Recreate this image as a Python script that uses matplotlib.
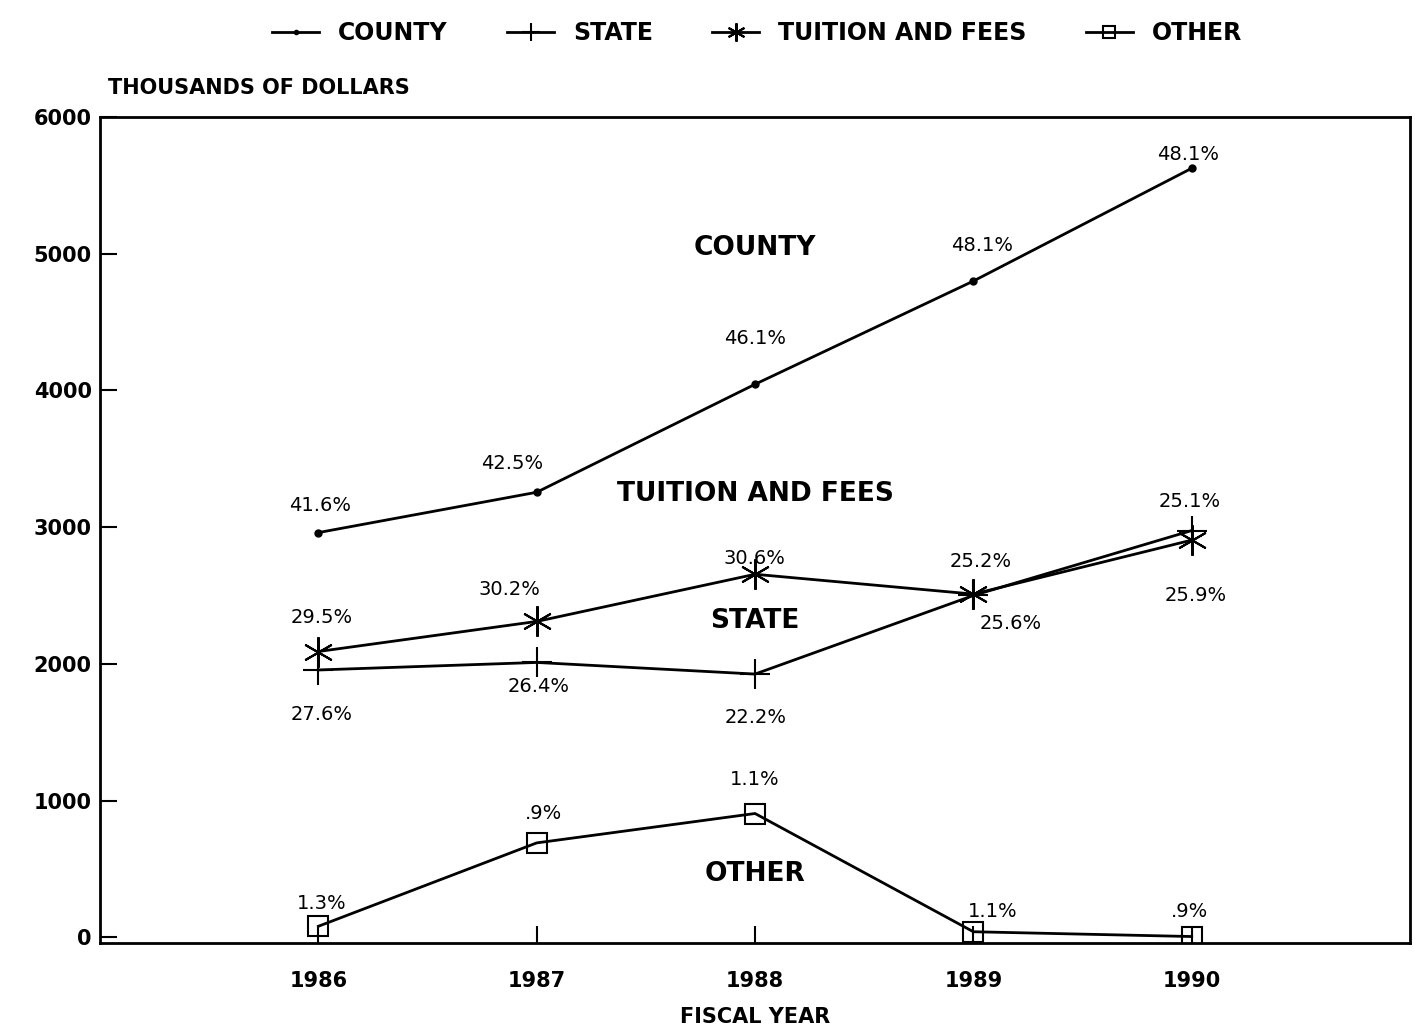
import matplotlib.pyplot as plt

# fiscal years and revenue by source (thousands of dollars)
years = [1986, 1987, 1988, 1989, 1990]
county = [2960, 3255, 4045, 4800, 5625]
state = [1955, 2010, 1925, 2500, 2975]
tuition = [2090, 2310, 2655, 2510, 2905]
other = [80, 690, 905, 40, 5]

# percent share labels
county_pct = ['41.6%', '42.5%', '46.1%', '48.1%', '48.1%']
state_pct = ['27.6%', '26.4%', '22.2%', '25.6%', '25.9%']
tuition_pct = ['29.5%', '30.2%', '30.6%', '25.2%', '25.1%']
other_pct = ['1.3%', '.9%', '1.1%', '1.1%', '.9%']

# label offsets in pixels from each point
county_off = [(2, 27), (-25, 29), (0, 46), (9, 36), (-4, 14)]
state_off = [(3, -45), (2, -24), (1, -43), (37, -28), (4, -65)]
tuition_off = [(3, 34), (-27, 32), (-1, 16), (7, 33), (-2, 39)]
other_off = [(3, 23), (7, 29), (0, 34), (19, 20), (-2, 25)]

plt.rcParams['font.family'] = 'DejaVu Sans'

fig = plt.figure(figsize=(14.15, 10.31), dpi=100)
ax = fig.add_axes([0.0707, 0.085, 0.9258, 0.8015])

lw = 2
ax.plot(years, county, color='black', lw=lw, marker='o', ms=5, label='COUNTY')
ax.plot(years, state, color='black', lw=lw, marker='+', ms=22, mew=1.5, label='STATE')
ax.plot(years, tuition, color='black', lw=lw, marker=(6, 2, 0), ms=22, mew=1.5,
        label='TUITION AND FEES')
ax.plot(years, other, color='black', lw=lw, marker='s', ms=15, mfc='none', mew=1.5,
        label='OTHER')

for vals, labs, offs in [(county, county_pct, county_off),
                         (state, state_pct, state_off),
                         (tuition, tuition_pct, tuition_off),
                         (other, other_pct, other_off)]:
    for x, y, t, (dx, dy) in zip(years, vals, labs, offs):
        ax.annotate(t, (x, y), xytext=(dx, dy), textcoords='offset pixels',
                    ha='center', va='center', fontsize=14)

# series names inside the plot
ax.text(1988, 5040, 'COUNTY', ha='center', va='center', fontsize=19, fontweight='bold')
ax.text(1988, 3240, 'TUITION AND FEES', ha='center', va='center', fontsize=19, fontweight='bold')
ax.text(1988, 2310, 'STATE', ha='center', va='center', fontsize=19, fontweight='bold')
ax.text(1988, 460, 'OTHER', ha='center', va='center', fontsize=19, fontweight='bold')

ax.set_xlim(1985, 1991)
ax.set_ylim(-45, 6000)
ax.set_xticks(years)
ax.set_yticks(range(0, 6001, 1000))
ax.tick_params(direction='in', length=12, width=1.5, labelsize=15)
ax.tick_params(axis='x', pad=20)
ax.tick_params(axis='y', pad=6)
for lab in ax.get_xticklabels() + ax.get_yticklabels():
    lab.set_fontweight('bold')
for s in ax.spines.values():
    s.set_linewidth(2)

fig.text(0.0763, 0.915, 'THOUSANDS OF DOLLARS', fontsize=15, fontweight='bold',
         va='center', ha='left')
fig.text(0.5335, 0.014, 'FISCAL YEAR', fontsize=15, fontweight='bold',
         ha='center', va='center')

leg = fig.legend(loc='upper center', bbox_to_anchor=(0.535, 1.0), ncol=4,
                 frameon=False, fontsize=17, handlelength=2, columnspacing=2.5,
                 markerscale=0.6)
for t in leg.get_texts():
    t.set_fontweight('bold')

fig.savefig('out.png', dpi=100)
